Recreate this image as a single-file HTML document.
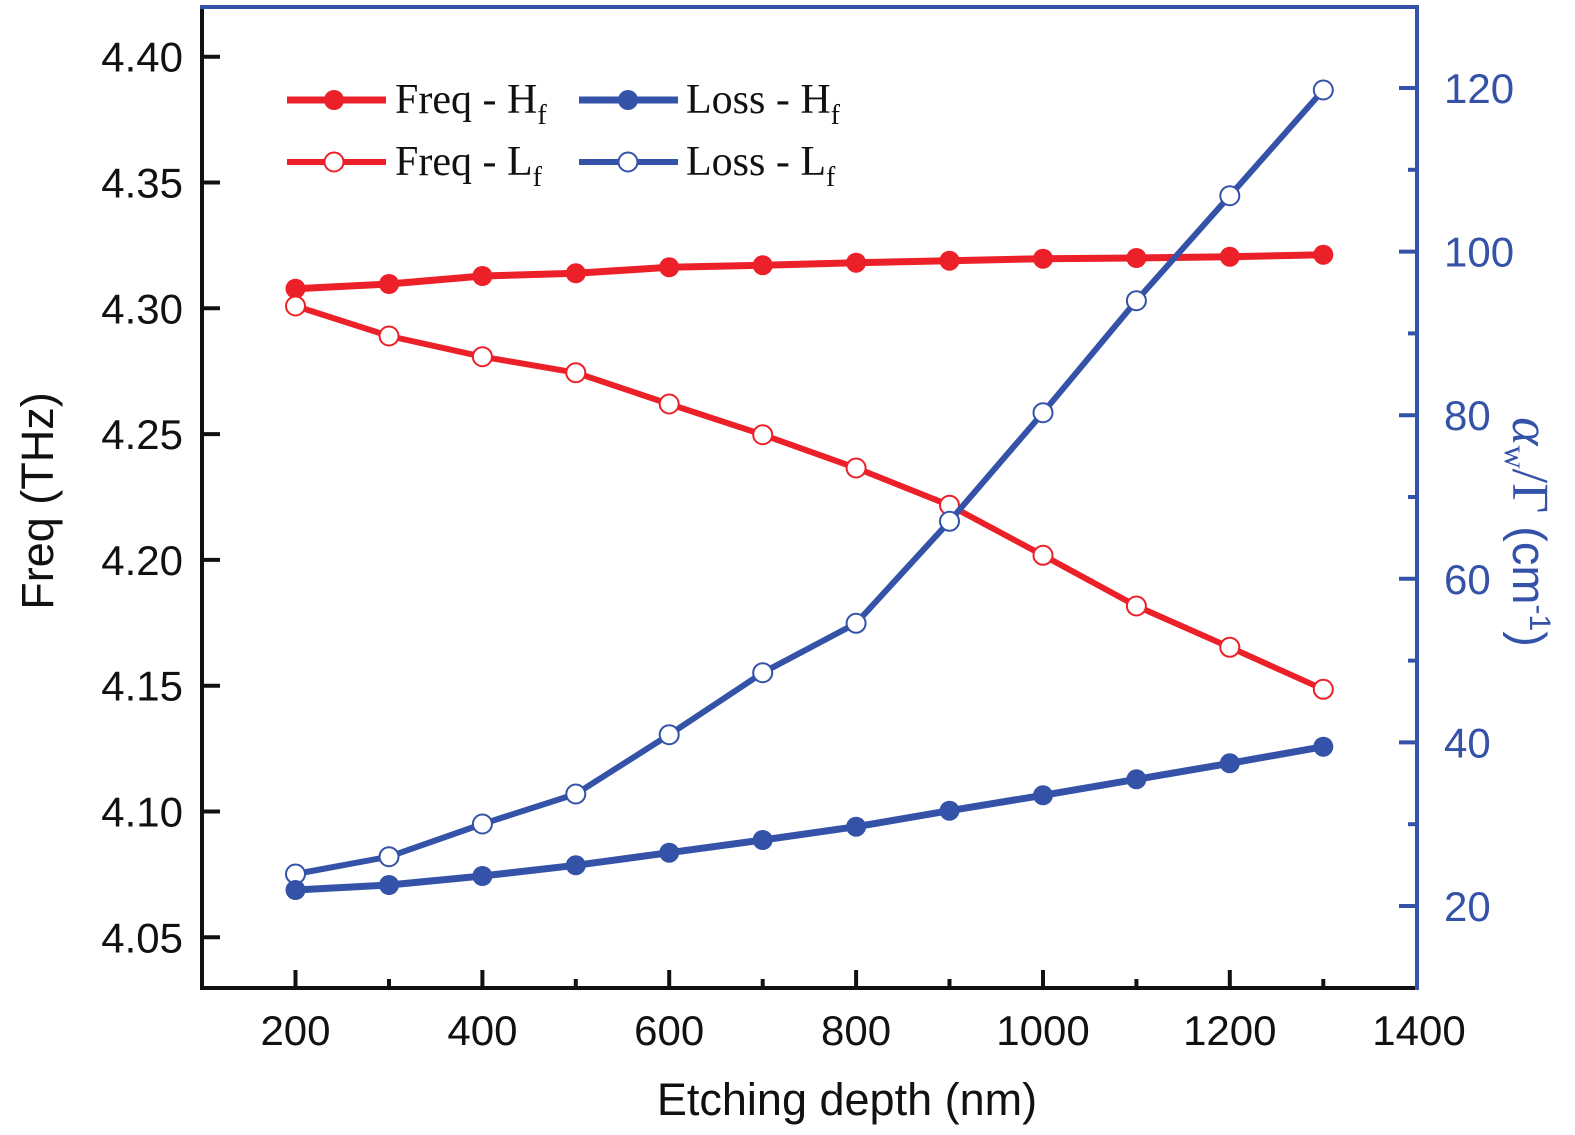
<!DOCTYPE html>
<html>
<head>
<meta charset="utf-8">
<style>
  html,body{margin:0;padding:0;background:#fff;}
  svg{display:block;}
  .sans{font-family:"Liberation Sans",Arial,sans-serif;}
  .serif{font-family:"Liberation Serif","Times New Roman",serif;}
</style>
</head>
<body>
<svg width="1575" height="1135" viewBox="0 0 1575 1135" xmlns="http://www.w3.org/2000/svg">
  <rect width="1575" height="1135" fill="#fff"/>

  <!-- Bottom axis ticks (black, inward) -->
  <g stroke="#111" stroke-width="4">
    <line x1="295.5" y1="988" x2="295.5" y2="970"/>
    <line x1="482.4" y1="988" x2="482.4" y2="970"/>
    <line x1="669.2" y1="988" x2="669.2" y2="970"/>
    <line x1="856.1" y1="988" x2="856.1" y2="970"/>
    <line x1="1043" y1="988" x2="1043" y2="970"/>
    <line x1="1229.8" y1="988" x2="1229.8" y2="970"/>
    <line x1="389" y1="988" x2="389" y2="979"/>
    <line x1="575.8" y1="988" x2="575.8" y2="979"/>
    <line x1="762.7" y1="988" x2="762.7" y2="979"/>
    <line x1="949.5" y1="988" x2="949.5" y2="979"/>
    <line x1="1136.4" y1="988" x2="1136.4" y2="979"/>
    <line x1="1323.3" y1="988" x2="1323.3" y2="979"/>
  </g>
  <!-- Left axis ticks -->
  <g stroke="#111" stroke-width="4">
    <line x1="202" y1="56.7" x2="220" y2="56.7"/>
    <line x1="202" y1="182.5" x2="220" y2="182.5"/>
    <line x1="202" y1="308.3" x2="220" y2="308.3"/>
    <line x1="202" y1="434.1" x2="220" y2="434.1"/>
    <line x1="202" y1="559.9" x2="220" y2="559.9"/>
    <line x1="202" y1="685.7" x2="220" y2="685.7"/>
    <line x1="202" y1="811.5" x2="220" y2="811.5"/>
    <line x1="202" y1="937.3" x2="220" y2="937.3"/>
  </g>
  <!-- Right axis ticks (blue) -->
  <g stroke="#3452A7" stroke-width="4">
    <line x1="1417" y1="906" x2="1399" y2="906"/>
    <line x1="1417" y1="742.4" x2="1399" y2="742.4"/>
    <line x1="1417" y1="578.8" x2="1399" y2="578.8"/>
    <line x1="1417" y1="415.2" x2="1399" y2="415.2"/>
    <line x1="1417" y1="251.6" x2="1399" y2="251.6"/>
    <line x1="1417" y1="88" x2="1399" y2="88"/>
    <line x1="1417" y1="824.2" x2="1408" y2="824.2"/>
    <line x1="1417" y1="660.6" x2="1408" y2="660.6"/>
    <line x1="1417" y1="497" x2="1408" y2="497"/>
    <line x1="1417" y1="333.4" x2="1408" y2="333.4"/>
    <line x1="1417" y1="169.8" x2="1408" y2="169.8"/>
  </g>

  <!-- Axes frame -->
  <line x1="202" y1="7" x2="202" y2="990" stroke="#111" stroke-width="4"/>
  <line x1="200" y1="988" x2="1417" y2="988" stroke="#111" stroke-width="4"/>
  <line x1="200" y1="7" x2="1419" y2="7" stroke="#3452A7" stroke-width="4"/>
  <line x1="1417" y1="5" x2="1417" y2="990" stroke="#3452A7" stroke-width="4"/>

  <!-- Freq - Hf -->
  <polyline fill="none" stroke="#EC2028" stroke-width="7" stroke-linejoin="round"
    points="295.5,288.7 389,284 482.4,276 575.8,273.3 669.2,267.3 762.7,265.3 856.1,262.7 949.5,260.7 1043,258.7 1136.4,258 1229.8,256.7 1323.3,254.7"/>
  <g fill="#EC2028">
    <circle cx="295.5" cy="288.7" r="10"/><circle cx="389" cy="284" r="10"/><circle cx="482.4" cy="276" r="10"/>
    <circle cx="575.8" cy="273.3" r="10"/><circle cx="669.2" cy="267.3" r="10"/><circle cx="762.7" cy="265.3" r="10"/>
    <circle cx="856.1" cy="262.7" r="10"/><circle cx="949.5" cy="260.7" r="10"/><circle cx="1043" cy="258.7" r="10"/>
    <circle cx="1136.4" cy="258" r="10"/><circle cx="1229.8" cy="256.7" r="10"/><circle cx="1323.3" cy="254.7" r="10"/>
  </g>

  <!-- Freq - Lf -->
  <polyline fill="none" stroke="#EC2028" stroke-width="6" stroke-linejoin="round"
    points="295.5,306 389,336 482.4,356.7 575.8,372.7 669.2,404 762.7,434.7 856.1,468 949.5,505.3 1043,555.3 1136.4,606 1229.8,647.3 1323.3,689.3"/>
  <g fill="#fff" stroke="#EC2028" stroke-width="2">
    <circle cx="295.5" cy="306" r="9.5"/><circle cx="389" cy="336" r="9.5"/><circle cx="482.4" cy="356.7" r="9.5"/>
    <circle cx="575.8" cy="372.7" r="9.5"/><circle cx="669.2" cy="404" r="9.5"/><circle cx="762.7" cy="434.7" r="9.5"/>
    <circle cx="856.1" cy="468" r="9.5"/><circle cx="949.5" cy="505.3" r="9.5"/><circle cx="1043" cy="555.3" r="9.5"/>
    <circle cx="1136.4" cy="606" r="9.5"/><circle cx="1229.8" cy="647.3" r="9.5"/><circle cx="1323.3" cy="689.3" r="9.5"/>
  </g>

  <!-- Loss - Lf -->
  <polyline fill="none" stroke="#3452A7" stroke-width="6" stroke-linejoin="round"
    points="295.5,874 389,856.7 482.4,824 575.8,794 669.2,734.7 762.7,672.7 856.1,623.3 949.5,521.3 1043,412.7 1136.4,300.7 1229.8,195.7 1323.3,90"/>
  <g fill="#fff" stroke="#3452A7" stroke-width="2">
    <circle cx="295.5" cy="874" r="9.5"/><circle cx="389" cy="856.7" r="9.5"/><circle cx="482.4" cy="824" r="9.5"/>
    <circle cx="575.8" cy="794" r="9.5"/><circle cx="669.2" cy="734.7" r="9.5"/><circle cx="762.7" cy="672.7" r="9.5"/>
    <circle cx="856.1" cy="623.3" r="9.5"/><circle cx="949.5" cy="521.3" r="9.5"/><circle cx="1043" cy="412.7" r="9.5"/>
    <circle cx="1136.4" cy="300.7" r="9.5"/><circle cx="1229.8" cy="195.7" r="9.5"/><circle cx="1323.3" cy="90" r="9.5"/>
  </g>

  <!-- Loss - Hf -->
  <polyline fill="none" stroke="#3452A7" stroke-width="7" stroke-linejoin="round"
    points="295.5,890 389,885 482.4,876 575.8,865.3 669.2,852.7 762.7,840 856.1,826.7 949.5,810.7 1043,795.3 1136.4,779.3 1229.8,763.3 1323.3,746.7"/>
  <g fill="#3452A7">
    <circle cx="295.5" cy="890" r="10"/><circle cx="389" cy="885" r="10"/><circle cx="482.4" cy="876" r="10"/>
    <circle cx="575.8" cy="865.3" r="10"/><circle cx="669.2" cy="852.7" r="10"/><circle cx="762.7" cy="840" r="10"/>
    <circle cx="856.1" cy="826.7" r="10"/><circle cx="949.5" cy="810.7" r="10"/><circle cx="1043" cy="795.3" r="10"/>
    <circle cx="1136.4" cy="779.3" r="10"/><circle cx="1229.8" cy="763.3" r="10"/><circle cx="1323.3" cy="746.7" r="10"/>
  </g>

  <!-- Legend -->
  <line x1="287" y1="100" x2="386" y2="100" stroke="#EC2028" stroke-width="7"/>
  <circle cx="334" cy="100" r="10" fill="#EC2028"/>
  <line x1="287" y1="162" x2="386" y2="162" stroke="#EC2028" stroke-width="6"/>
  <circle cx="334" cy="162" r="9.5" fill="#fff" stroke="#EC2028" stroke-width="2"/>
  <line x1="579" y1="100" x2="678" y2="100" stroke="#3452A7" stroke-width="7"/>
  <circle cx="628" cy="100" r="10" fill="#3452A7"/>
  <line x1="579" y1="162" x2="678" y2="162" stroke="#3452A7" stroke-width="6"/>
  <circle cx="628" cy="162" r="9.5" fill="#fff" stroke="#3452A7" stroke-width="2"/>
  <g class="serif" font-size="42" fill="#111">
    <text x="395" y="113">Freq - H<tspan font-size="28" dy="11">f</tspan></text>
    <text x="395" y="175">Freq - L<tspan font-size="28" dy="11">f</tspan></text>
    <text x="686" y="113">Loss - H<tspan font-size="28" dy="11">f</tspan></text>
    <text x="686" y="175">Loss - L<tspan font-size="28" dy="11">f</tspan></text>
  </g>

  <!-- Left tick labels -->
  <g class="sans" font-size="42" fill="#111" text-anchor="end">
    <text x="183" y="71.7">4.40</text>
    <text x="183" y="197.5">4.35</text>
    <text x="183" y="323.3">4.30</text>
    <text x="183" y="449.1">4.25</text>
    <text x="183" y="574.9">4.20</text>
    <text x="183" y="700.7">4.15</text>
    <text x="183" y="826.5">4.10</text>
    <text x="183" y="952.3">4.05</text>
  </g>

  <!-- Bottom tick labels -->
  <g class="sans" font-size="42" fill="#111" text-anchor="middle">
    <text x="295.5" y="1045">200</text>
    <text x="482.4" y="1045">400</text>
    <text x="669.2" y="1045">600</text>
    <text x="856.1" y="1045">800</text>
    <text x="1043" y="1045">1000</text>
    <text x="1229.8" y="1045">1200</text>
    <text x="1419" y="1045">1400</text>
  </g>

  <!-- Right tick labels -->
  <g class="sans" font-size="42" fill="#3452A7" text-anchor="start">
    <text x="1444" y="921">20</text>
    <text x="1444" y="757.4">40</text>
    <text x="1444" y="593.8">60</text>
    <text x="1444" y="430.2">80</text>
    <text x="1444" y="266.6">100</text>
    <text x="1444" y="103">120</text>
  </g>

  <!-- Axis titles -->
  <text class="sans" font-size="45" fill="#111" text-anchor="middle" x="847" y="1115">Etching depth (nm)</text>
  <text class="sans" font-size="45" fill="#111" text-anchor="middle" transform="translate(53,501) rotate(-90)">Freq (THz)</text>
  <text fill="#3452A7" text-anchor="middle" transform="translate(1513,532) rotate(90)" font-size="47"><tspan class="serif" font-style="italic" font-size="54">α</tspan><tspan class="serif" font-size="32" dy="8">w</tspan><tspan class="serif" font-size="52" dy="-8">/Γ</tspan><tspan class="sans"> (cm</tspan><tspan class="sans" font-size="30" dy="-17">-1</tspan><tspan class="sans" dy="17">)</tspan></text>
</svg>
</body>
</html>
